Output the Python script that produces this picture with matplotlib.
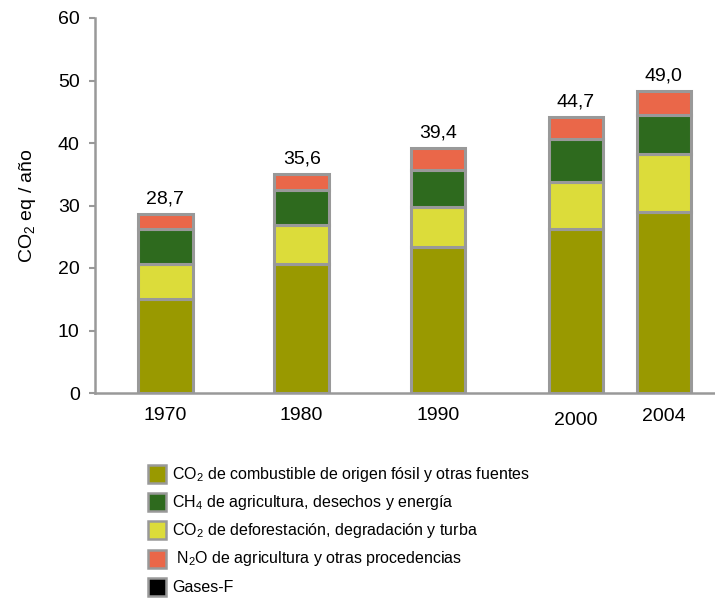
import matplotlib
matplotlib.use("Agg")
import matplotlib.pyplot as plt
from matplotlib.patches import Rectangle
from matplotlib.transforms import ScaledTranslation

plt.rcParams['font.family'] = ['Liberation Sans', 'DejaVu Sans']
plt.rcParams['mathtext.fontset'] = 'custom'
plt.rcParams['mathtext.rm'] = 'Liberation Sans'
plt.rcParams['mathtext.it'] = 'Liberation Sans:italic'
plt.rcParams['mathtext.bf'] = 'Liberation Sans:bold'

# ---- data ----
years = ["1970", "1980", "1990", "2000", "2004"]
co2_fossil = [15.0, 20.6, 23.4, 26.2, 28.9]
co2_deforest = [5.6, 6.3, 6.3, 7.6, 9.3]
ch4 = [5.6, 5.6, 6.0, 6.8, 6.3]
n2o = [2.5, 2.6, 3.5, 3.6, 3.9]
total_labels = [28.7, 35.6, 39.4, 44.7, 49.0]

legend_labels = [
    r"CO$_2$ de combustible de origen fósil y otras fuentes",
    r"CH$_4$ de agricultura, desechos y energía",
    r"CO$_2$ de deforestación, degradación y turba",
    r" N$_2$O de agricultura y otras procedencias",
    "Gases-F",
]
c_fossil, c_ch4, c_def, c_n2o, c_f = "#999900", "#2E6A1E", "#DCDC3A", "#EA6749", "#000000"
legend_colors = [c_fossil, c_ch4, c_def, c_n2o, c_f]
edge = "#999999"

# layout positions (uneven spacing as in the original)
xpos = [0, 1, 2, 3.01, 3.655]

W, H = 715, 603
fig = plt.figure(figsize=(W / 100, H / 100), dpi=100)
ax = fig.add_axes([95 / W, 1 - 393 / H, 1 - 95 / W, (393 - 18) / H])

bottom = [0.0] * len(years)
for vals, col in zip([co2_fossil, co2_deforest, ch4, n2o], [c_fossil, c_def, c_ch4, c_n2o]):
    ax.bar(xpos, vals, bottom=bottom, width=0.40, color=col,
           edgecolor=edge, linewidth=2.2, zorder=3)
    bottom = [b + v for b, v in zip(bottom, vals)]

for x, top, lab in zip(xpos, bottom, total_labels):
    ax.annotate(f"{lab:.1f}".replace(".", ","), xy=(x, top), xytext=(0, 7.5),
                textcoords="offset points", ha="center", va="baseline",
                fontsize=14, color="black")

ax.set_xlim(-0.515, 4.03)
ax.set_ylim(0, 60)
ax.set_yticks(range(0, 61, 10))
ax.tick_params(axis="y", direction="out", length=4, width=1.5, color="#999999",
               labelsize=14, pad=7)
ax.set_xticks(xpos)
ax.set_xticklabels(years)
ax.tick_params(axis="x", length=0, labelsize=14, pad=10)

# the 2000 label sits slightly lower in the original
lbls = ax.get_xticklabels()
lbls[3].set_transform(lbls[3].get_transform() + ScaledTranslation(0, -4 / 72, fig.dpi_scale_trans))
lbls[4].set_transform(lbls[4].get_transform() + ScaledTranslation(0, -0.5 / 72, fig.dpi_scale_trans))

for s in ["top", "right"]:
    ax.spines[s].set_visible(False)
for s in ["left", "bottom"]:
    ax.spines[s].set_color("#999999")
    ax.spines[s].set_linewidth(1.8)

ax.set_ylabel(r"CO$_2$ eq / año", fontsize=14, labelpad=14)

# legend drawn manually
row_y = [474, 502, 530, 559, 587]
for yc, lab, col in zip(row_y, legend_labels, legend_colors):
    fig.patches.append(Rectangle((148 / W, 1 - (yc + 9) / H), 18 / W, 18 / H,
                                 transform=fig.transFigure, facecolor=col,
                                 edgecolor=edge, linewidth=1.8))
    fig.text(172 / W, 1 - yc / H, lab, fontsize=11.5, va="center", ha="left")

fig.savefig("out.png", dpi=100)
